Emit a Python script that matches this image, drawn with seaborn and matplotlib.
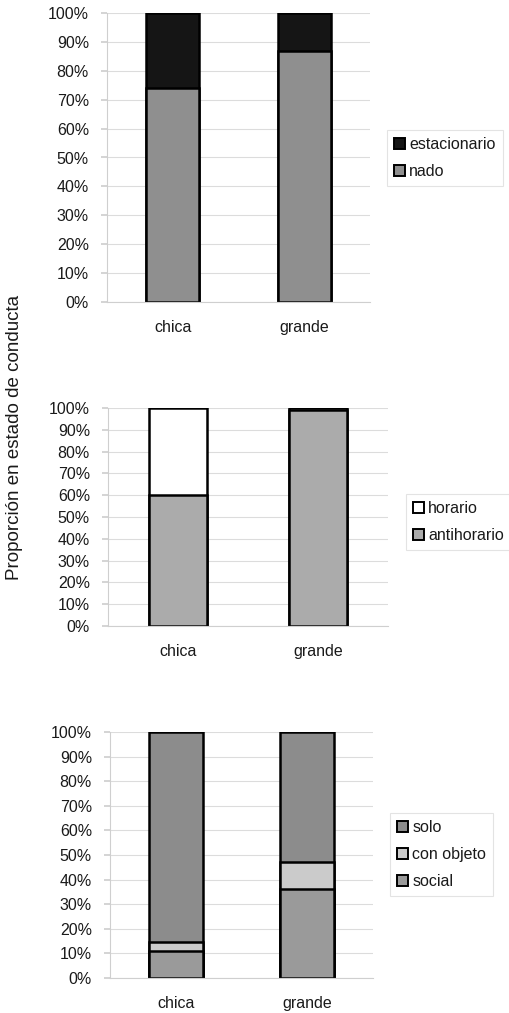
import matplotlib
matplotlib.use("Agg")
import matplotlib.pyplot as plt
from matplotlib.patches import Patch
from matplotlib.ticker import PercentFormatter, MultipleLocator
import numpy as np
import pandas as pd
import seaborn as sns

sns.set_theme(style="white")
plt.rcParams["font.family"] = ["Liberation Sans", "DejaVu Sans"]

# Tank size categories
categorias = ["chica", "grande"]

# Panel 1: locomotion state (%)
nado = [74, 87]
estacionario = [26, 13]

# Panel 2: swimming direction (%)
antihorario = [60, 99]
horario = [40, 1]

# Panel 3: social context (%)
social = [11, 36]
con_objeto = [3.5, 11]
solo = [85.5, 53]

ylabel = "Proporción en estado de conducta"

fig = plt.figure(figsize=(5.09, 10.13), dpi=100)
W, H = 509, 1013
FS = 11.5


def axes_px(left, right, top, bottom):
    return fig.add_axes([left / W, (H - bottom) / H, (right - left) / W, (bottom - top) / H])


def stacked(ax, layers, width):
    """layers: list of (label, values, color) from bottom to top."""
    cum = np.zeros(len(categorias))
    tops = []
    for label, vals, color in layers:
        cum = cum + np.asarray(vals, dtype=float)
        tops.append((label, cum.copy(), color))
    # draw cumulative totals from the top layer down so lower layers overlay
    for label, tot, color in reversed(tops):
        df = pd.DataFrame({"cat": categorias, "val": tot})
        sns.barplot(data=df, x="cat", y="val", ax=ax, color=color, width=width,
                    edgecolor="black", linewidth=1.8, saturation=1)
    ax.set_xlim(-0.5, 1.5)
    ax.set_ylim(0, 100)
    ax.yaxis.set_major_locator(MultipleLocator(10))
    ax.yaxis.set_major_formatter(PercentFormatter(decimals=0))
    ax.set_xlabel("")
    ax.set_ylabel("")
    ax.grid(axis="y", color="#dcdcdc", linewidth=0.8)
    ax.set_axisbelow(True)
    for s in ["top", "right"]:
        ax.spines[s].set_visible(False)
    for s in ["left", "bottom"]:
        ax.spines[s].set_color("#cfcfcf")
        ax.spines[s].set_linewidth(0.8)
    ax.tick_params(axis="y", labelsize=FS, length=4, color="#cfcfcf", pad=9, left=True,
                   labelcolor="#1a1a1a")
    ax.tick_params(axis="x", labelsize=FS, length=0, pad=13, labelcolor="#1a1a1a")


def legend(ax, items, bbox):
    handles = [Patch(facecolor=c, edgecolor="black", linewidth=1.4, label=l) for l, c in items]
    leg = ax.legend(handles=handles, loc="upper left", bbox_to_anchor=bbox,
                    bbox_transform=fig.transFigure, frameon=True, fontsize=FS,
                    handlelength=0.7, handleheight=0.7, handletextpad=0.25,
                    labelspacing=0.75, borderpad=0.45, borderaxespad=0, fancybox=False)
    leg.get_frame().set_edgecolor("#dddddd")
    leg.get_frame().set_linewidth(0.8)
    for t in leg.get_texts():
        t.set_color("#1a1a1a")


ax1 = axes_px(107, 370, 13, 302)
stacked(ax1, [("nado", nado, "#8f8f8f"), ("estacionario", estacionario, "#151515")], 0.4)
legend(ax1, [("estacionario", "#151515"), ("nado", "#8f8f8f")], (387 / W, 1 - 130 / H))

ax2 = axes_px(108, 388, 408, 626)
stacked(ax2, [("antihorario", antihorario, "#ababab"), ("horario", horario, "#ffffff")], 0.41)
legend(ax2, [("horario", "#ffffff"), ("antihorario", "#ababab")], (406 / W, 1 - 494 / H))

ax3 = axes_px(110, 373, 732, 978)
stacked(ax3, [("social", social, "#9a9a9a"), ("con objeto", con_objeto, "#cbcbcb"),
              ("solo", solo, "#8c8c8c")], 0.41)
legend(ax3, [("solo", "#8c8c8c"), ("con objeto", "#cbcbcb"), ("social", "#9a9a9a")],
       (390 / W, 1 - 813 / H))

fig.text(15 / W, 1 - 437 / H, ylabel, rotation=90, ha="center", va="center", fontsize=13.5,
         color="#1a1a1a")

fig.savefig("out.png", dpi=100)
